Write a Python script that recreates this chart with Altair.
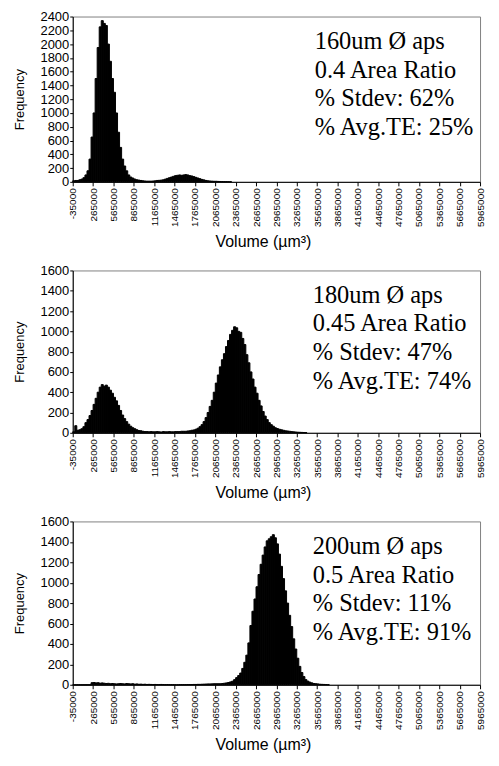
import altair as alt
import pandas as pd

BIN_START = -35000
BIN_WIDTH = 30000

# Frequency per 30000 µm³ bin, starting at -35000
counts_160 = [
    15, 20, 20, 30, 40, 60, 100, 160, 330, 650,
    1000, 1500, 1950, 2250, 2340, 2300, 2270, 2000, 1750, 1500,
    1300, 1000, 720, 500, 330, 230, 160, 100, 70, 55,
    40, 30, 25, 20, 15, 12, 10, 10, 10, 12,
    15, 20, 22, 25, 30, 40, 50, 60, 70, 80,
    90, 95, 100, 95, 100, 105, 100, 90, 85, 75,
    65, 55, 45, 35, 28, 20, 15, 12, 10, 8,
    8, 6, 5, 4, 3, 3, 2, 2,
]
counts_180 = [
    10, 70, 25, 30, 40, 60, 100, 130, 170, 220,
    280, 340, 400, 450, 475, 460, 470, 450, 420, 390,
    350, 315, 270, 220, 175, 140, 110, 85, 65, 50,
    40, 30, 22, 20, 15, 12, 12, 10, 12, 10,
    10, 12, 10, 8, 12, 10, 10, 12, 10, 10,
    12, 12, 12, 15, 15, 15, 18, 20, 25, 28,
    35, 45, 60, 80, 110, 150, 200, 260, 320, 400,
    490, 570, 650, 720, 780, 850, 910, 970, 1010, 1045,
    1035, 1000, 990, 930, 870, 770, 690, 600, 530, 450,
    390, 320, 265, 210, 165, 130, 100, 80, 65, 50,
    42, 35, 30, 25, 20, 18, 15, 12, 10, 8,
    6, 5, 4, 3, 2,
]
counts_200 = [
    0, 0, 0, 0, 0, 0, 0, 0, 0, 20,
    22, 18, 20, 15, 18, 15, 12, 14, 10, 12,
    10, 8, 10, 12, 10, 8, 12, 10, 8, 10,
    6, 8, 5, 6, 4, 5, 3, 4, 3, 2,
    3, 2, 2, 3, 2, 1, 2, 1, 1, 1,
    0, 0, 1, 1, 1, 1, 2, 2, 2, 3,
    3, 4, 4, 5, 6, 7, 8, 8, 9, 10,
    10, 10, 10, 12, 15, 18, 22, 28, 35, 50,
    70, 90, 115, 160, 220, 290, 410, 580, 720, 840,
    960, 1080, 1180, 1270, 1350, 1410, 1430, 1450, 1470, 1440,
    1380, 1280, 1160, 1040, 920, 800, 680, 570, 450, 350,
    260, 180, 120, 80, 50, 35, 25, 18, 12, 10,
    8, 5, 4, 3, 2, 1,
]

x_ticks = [-35000, 265000, 565000, 865000, 1165000, 1465000, 1765000,
           2065000, 2365000, 2665000, 2965000, 3265000, 3565000, 3865000,
           4165000, 4465000, 4765000, 5065000, 5365000, 5665000, 5965000]
y_ticks_2400 = [0, 200, 400, 600, 800, 1000, 1200, 1400, 1600, 1800, 2000, 2200, 2400]
y_ticks_1600 = [0, 200, 400, 600, 800, 1000, 1200, 1400, 1600]

labels_160 = ["160um Ø aps", "0.4 Area Ratio", "% Stdev: 62%", "% Avg.TE: 25%"]
labels_180 = ["180um Ø aps", "0.45 Area Ratio", "% Stdev: 47%", "% Avg.TE: 74%"]
labels_200 = ["200um Ø aps", "0.5 Area Ratio", "% Stdev: 11%", "% Avg.TE: 91%"]

SANS = "Liberation Sans"
SERIF = "Liberation Serif"


def panel(counts, ymax, yticks, h, lines, tx, ty):
    df = pd.DataFrame({
        "start": [BIN_START + i * BIN_WIDTH for i in range(len(counts))],
        "count": counts,
    })
    df["end"] = df["start"] + BIN_WIDTH
    bars = alt.Chart(df).mark_rect(color="black", stroke="black", strokeWidth=1).encode(
        x=alt.X("start:Q",
                scale=alt.Scale(domain=[-35000, 5965000], nice=False, zero=False),
                axis=alt.Axis(values=x_ticks, labelAngle=-90, labelAlign="right",
                              labelBaseline="middle", labelExpr="'' + datum.value",
                              labelFont=SANS, labelFontSize=10, labelColor="black",
                              labelFlush=False, labelOverlap=False, labelPadding=2,
                              tickSize=4, tickColor="black", domainColor="black",
                              grid=False, title="Volume (µm³)", titleFont=SANS,
                              titleFontSize=16, titleFontWeight="normal",
                              titleColor="black", titlePadding=7, titleX=191)),
        x2="end:Q",
        y=alt.Y("count:Q",
                scale=alt.Scale(domain=[0, ymax], nice=False),
                axis=alt.Axis(values=yticks, labelExpr="'' + datum.value",
                              labelFont=SANS, labelFontSize=13,
                              labelColor="black", labelPadding=1, tickSize=3,
                              tickColor="black", domainColor="black", grid=False,
                              title="Frequency", titleFont=SANS, titleFontSize=13,
                              titleFontWeight="normal", titleColor="black",
                              titlePadding=14)),
        y2=alt.datum(0),
    )
    txt = alt.Chart(pd.DataFrame({"t": ["\n".join(lines)]})).mark_text(
        align="left", baseline="top", lineBreak="\n", lineHeight=28.8,
        font=SERIF, fontSize=24.5, color="black",
    ).encode(x=alt.value(tx), y=alt.value(ty), text="t:N")
    return alt.layer(bars, txt).properties(width=409, height=h)


p1 = panel(counts_160, 2400, y_ticks_2400, 166, labels_160, 243, 13.6)
p2 = panel(counts_180, 1600, y_ticks_1600, 163, labels_180, 241, 13.3)
p3 = panel(counts_200, 1600, y_ticks_1600, 164, labels_200, 241, 13.6)

chart = alt.vconcat(p1, p2, p3, spacing=13).properties(
    padding={"left": 4, "top": 0, "right": 5, "bottom": 5}
).configure_view(stroke="#808080", strokeWidth=1)

chart.save("out.html", embed_options={"renderer": "svg", "actions": False})
